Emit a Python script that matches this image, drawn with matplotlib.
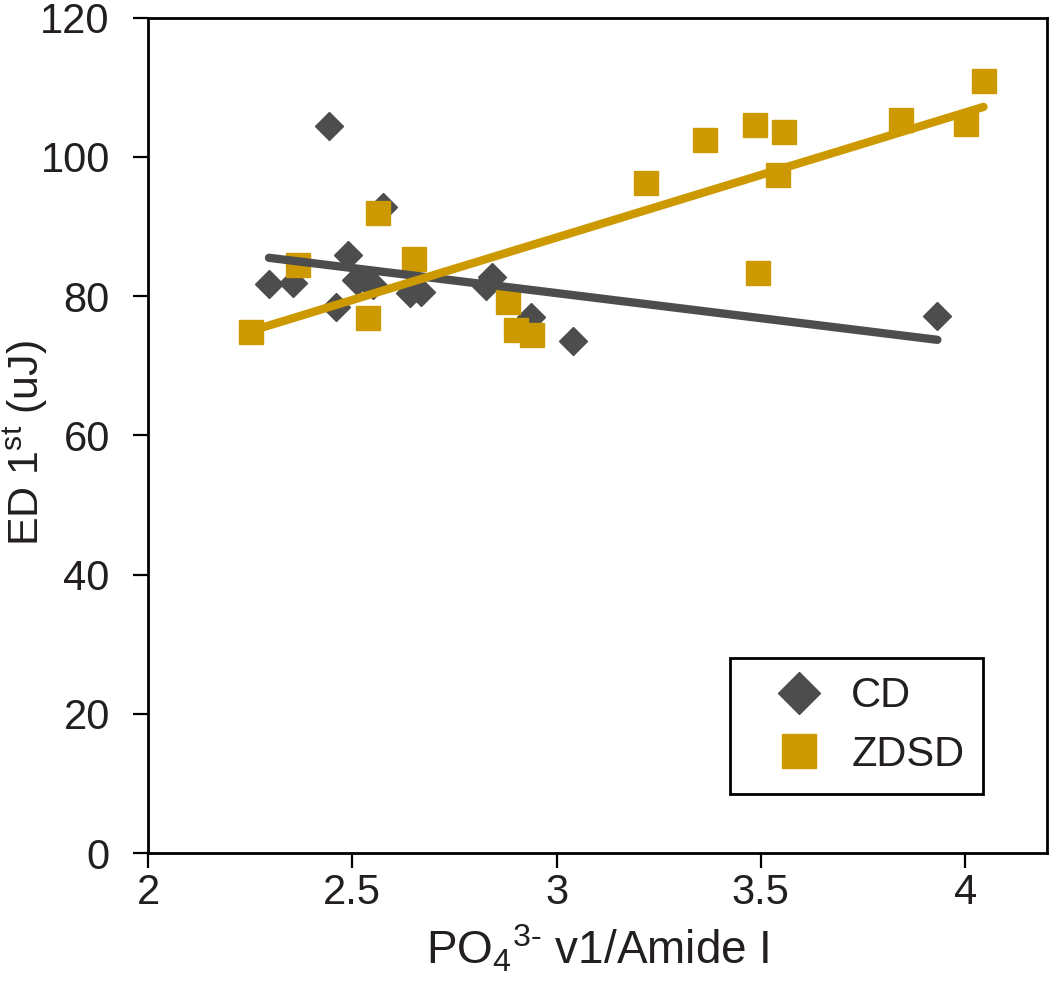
import matplotlib
matplotlib.use("Agg")
import matplotlib.pyplot as plt
import numpy as np

plt.rcParams['font.family'] = ['Liberation Sans', 'DejaVu Sans']
plt.rcParams['mathtext.fontset'] = 'custom'
plt.rcParams['mathtext.rm'] = 'Liberation Sans'
plt.rcParams['mathtext.it'] = 'Liberation Sans'

# CD group (diamonds)
cd_x = np.array([2.296, 2.355, 2.442, 2.461, 2.489, 2.508, 2.514, 2.542, 2.55,
                 2.575, 2.64, 2.668, 2.827, 2.843, 2.937, 3.04, 3.932])
cd_y = np.array([81.8, 81.9, 104.5, 78.4, 85.9, 82.3, 82.3, 81.9, 81.6,
                 92.8, 80.4, 80.6, 81.4, 82.8, 77.0, 73.5, 77.2])

# ZDSD group (squares)
zd_x = np.array([2.251, 2.367, 2.538, 2.564, 2.65, 2.88, 2.90, 2.94, 3.218,
                 3.363, 3.486, 3.494, 3.541, 3.556, 3.842, 4.003, 4.045])
zd_y = np.array([74.9, 84.5, 76.8, 91.9, 85.4, 79.2, 75.1, 74.4, 96.2,
                 102.4, 104.6, 83.4, 97.4, 103.6, 105.3, 104.7, 110.9])

cd_color = "#4d4d4d"
zd_color = "#cc9900"
txt = "#231f20"

fig = plt.figure(figsize=(10.5, 9.84), dpi=100)
ax = fig.add_axes([0.141, 0.133, 0.856, 0.849])

# linear fits
cd_fit = np.polyfit(cd_x, cd_y, 1)
zd_fit = np.polyfit(zd_x, zd_y, 1)
cd_lx = np.array([cd_x.min(), cd_x.max()])
zd_lx = np.array([zd_x.min(), zd_x.max()])

ax.plot(cd_x, cd_y, linestyle="none", marker="D", ms=14, color=cd_color,
        label="CD", zorder=3)
ax.plot(zd_x, zd_y, linestyle="none", marker="s", ms=17, color=zd_color,
        label="ZDSD", zorder=4)
ax.plot(cd_lx, np.polyval(cd_fit, cd_lx), color=cd_color, lw=6,
        solid_capstyle="round", zorder=5)
ax.plot(zd_lx, np.polyval(zd_fit, zd_lx), color=zd_color, lw=6,
        solid_capstyle="round", zorder=6)

ax.set_xlim(2, 4.2)
ax.set_ylim(0, 120)
ax.set_xticks([2, 2.5, 3, 3.5, 4])
ax.set_xticklabels(["2", "2.5", "3", "3.5", "4"])
ax.set_yticks(np.arange(0, 121, 20))

for s in ax.spines.values():
    s.set_linewidth(2)
    s.set_color("black")
ax.tick_params(direction="out", length=10.5, width=1.6, labelsize=30,
               labelcolor=txt)
ax.tick_params(axis="y", pad=17)
ax.tick_params(axis="x", pad=4)

ax.set_xlabel(r"PO$_4$$^{3\text{-}}$ v1/Amide I", fontsize=33, color=txt,
              labelpad=7)
ax.set_ylabel(r"ED 1$^{st}$ (uJ)", fontsize=31, color=txt)
ax.yaxis.set_label_coords(-0.109, 0.491)

leg = ax.legend(loc="lower right", bbox_to_anchor=(0.929, 0.071),
                borderaxespad=0, fontsize=30, fancybox=False, framealpha=1,
                edgecolor="black", borderpad=0.45, handletextpad=0.05,
                labelspacing=0.45, handlelength=2.4)
leg.get_frame().set_linewidth(2)
leg.legend_handles[0].set_markersize(21)
leg.legend_handles[1].set_markersize(24)
for t in leg.get_texts():
    t.set_color(txt)

fig.savefig("out.png", dpi=100)
